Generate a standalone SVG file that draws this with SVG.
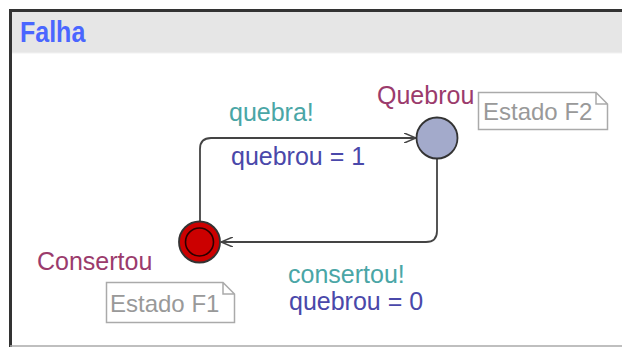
<svg xmlns="http://www.w3.org/2000/svg" width="622" height="347" viewBox="0 0 622 347">
  <style>
    text { font-family: "Liberation Sans", Arial, sans-serif; font-size: 25px; }
    .title { font-weight: bold; fill: #4a66ff; }
    .loc { fill: #9b3b6c; }
    .sync { fill: #4aa6a6; }
    .upd { fill: #4a48aa; }
    .note-text { fill: #999999; font-size: 24px; }
    .note { fill: #ffffff; stroke: #aaaaaa; stroke-width: 1.5; }
    .edge { fill: none; stroke: #444444; stroke-width: 1.8; }
  </style>
  <defs>
    <marker id="arrow" viewBox="0 0 12 10" refX="12" refY="5" markerWidth="12" markerHeight="10" markerUnits="userSpaceOnUse" orient="auto">
      <path d="M0,0 L12,5 L0,10" fill="none" stroke="#444444" stroke-width="1.6"/>
    </marker>
  </defs>

  <!-- template frame -->
  <g id="frame">
    <rect x="0" y="0" width="622" height="347" fill="#ffffff"/>
    <rect x="11" y="11" width="620" height="42" fill="#e6e6e6"/>
    <line x1="11" y1="53" x2="622" y2="53" stroke="#f2f2f2" stroke-width="1"/>
    <line x1="10" y1="10.5" x2="622" y2="10.5" stroke="#333333" stroke-width="3"/>
    <line x1="10.5" y1="9" x2="10.5" y2="347" stroke="#333333" stroke-width="3"/>
    <line x1="10" y1="346" x2="622" y2="346" stroke="#aaaaaa" stroke-width="1.5"/>
    <text class="title" transform="translate(20,42) scale(1,1.15)">Falha</text>
  </g>

  <!-- transitions -->
  <g id="edges">
    <path class="edge" d="M200,221 L200,149 Q200,138 211,138 L416,138" marker-end="url(#arrow)"/>
    <path class="edge" d="M437,159 L437,231 Q437,242 426,242 L221,242" marker-end="url(#arrow)"/>
    <text class="sync" x="229" y="121">quebra!</text>
    <text class="upd" x="231" y="165">quebrou = 1</text>
    <text class="sync" x="288" y="283">consertou!</text>
    <text class="upd" x="289" y="310">quebrou = 0</text>
  </g>

  <!-- location Quebrou -->
  <g id="quebrou">
    <circle cx="437" cy="138" r="20.5" fill="#a3aacb" stroke="#333333" stroke-width="1.8"/>
    <text class="loc" x="377" y="104">Quebrou</text>
    <path class="note" d="M478.5,92.5 H596 L607.5,104 V129.5 H478.5 Z M596,92.5 V104 H607.5"/>
    <text class="note-text" x="483" y="120">Estado F2</text>
  </g>

  <!-- location Consertou (initial) -->
  <g id="consertou">
    <circle cx="199.5" cy="242" r="20.5" fill="#cc0000" stroke="#333333" stroke-width="1.8"/>
    <circle cx="199.5" cy="242" r="14" fill="none" stroke="#2a0000" stroke-width="1.6"/>
    <text class="loc" x="37" y="270">Consertou</text>
    <path class="note" d="M106.5,282.5 H223 L234.5,294 V322.5 H106.5 Z M223,282.5 V294 H234.5"/>
    <text class="note-text" x="110" y="312">Estado F1</text>
  </g>
</svg>
